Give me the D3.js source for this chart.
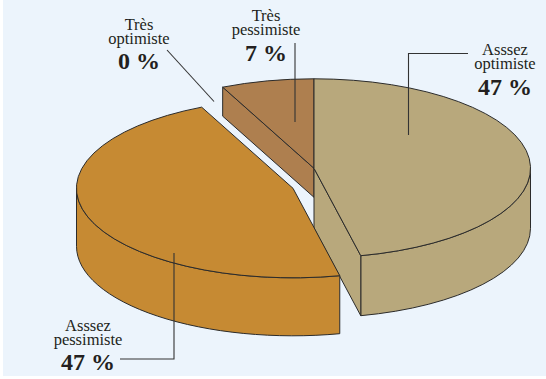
<!DOCTYPE html>
<html>
<head>
<meta charset="utf-8">
<script src="https://cdn.jsdelivr.net/npm/d3@7"></script>
<style>
  html, body { margin: 0; padding: 0; background: #ffffff; }
  svg { display: block; }
</style>
</head>
<body>
<svg id="chart" width="546" height="379"></svg>
<script>
  // ----- data -----
  const categories = ["Asssez optimiste", "Asssez pessimiste", "Très optimiste", "Très pessimiste"];
  const values = [47, 47, 0, 7];
  const valueLabels = ["47 %", "47 %", "0 %", "7 %"];

  // ----- look of each slice (same order as categories) -----
  const sliceFill = ["#b8a87c", "#c68a33", "#ae7f4f", "#ae7f4f"];
  const sliceShift = [[0, 0], [-21, 20], [0, 0], [0, 0]];   // exploded offset
  const sliceDepth = [60, 58, 29, 29];                       // side height

  // label anchor (baseline of first text line) and leader line points
  const labelPos = [
    { x: 505, y: 55,    leader: [[468, 53.5], [408.5, 53.5], [408.5, 135]] },
    { x: 88,  y: 330.5, leader: [[120, 359], [174, 359], [174, 253]] },
    { x: 139, y: 29.5,  leader: [[167, 50], [214, 101.5]] },
    { x: 266, y: 21,    leader: [[295, 43], [295, 122]] }
  ];

  const serif = "Liberation Serif";

  const svg = d3.select("#chart");
  const W = +svg.attr("width"), H = +svg.attr("height");

  svg.append("rect")
    .attr("x", 3).attr("y", 0)
    .attr("width", W - 3).attr("height", H - 3)
    .attr("fill", "#ecf4fc");

  // ellipse of the pie top
  const cx = 314, cy = 168.3, rx = 216.5, ry = 89.5;

  const pie = d3.pie().sort(null).value(d => d)
    .startAngle(0).endAngle(2 * Math.PI);
  const arcs = pie(values);

  // angle is clockwise from 12 o'clock (d3 convention), z goes down the side
  function pt(i, a, r, z) {
    const [dx, dy] = sliceShift[i];
    return [cx + dx + r * rx * Math.sin(a), cy + dy - r * ry * Math.cos(a) + z];
  }
  const f = p => p[0].toFixed(2) + "," + p[1].toFixed(2);

  const strokeCol = "#2b2b2b";
  const g = svg.append("g");

  // draw back to front
  const order = d3.range(values.length)
    .filter(i => values[i] > 0)
    .sort((a, b) => {
      const key = i => sliceShift[i][1] - ry * Math.cos((arcs[i].startAngle + arcs[i].endAngle) / 2);
      return key(a) - key(b);
    });

  order.forEach(i => {
    const a0 = arcs[i].startAngle, a1 = arcs[i].endAngle;
    const h = sliceDepth[i];
    const fill = sliceFill[i];
    const sg = g.append("g").attr("class", "slice");

    const face = d => sg.append("path")
      .attr("d", d)
      .attr("fill", fill)
      .attr("stroke", strokeCol)
      .attr("stroke-width", 1)
      .attr("stroke-linejoin", "round");

    // outer curved side (front half only)
    const s = Math.max(a0, Math.PI / 2), e = Math.min(a1, 3 * Math.PI / 2);
    if (s < e) {
      const large = (e - s) > Math.PI ? 1 : 0;
      face("M" + f(pt(i, s, 1, 0)) +
           " A" + rx + "," + ry + " 0 " + large + " 1 " + f(pt(i, e, 1, 0)) +
           " L" + f(pt(i, e, 1, h)) +
           " A" + rx + "," + ry + " 0 " + large + " 0 " + f(pt(i, s, 1, h)) + " Z");
    }

    // radial cut faces facing the viewer
    const cut = a => face("M" + f(pt(i, a, 0, 0)) + " L" + f(pt(i, a, 1, 0)) +
                          " L" + f(pt(i, a, 1, h)) + " L" + f(pt(i, a, 0, h)) + " Z");
    if (Math.sin(a0) < -1e-6) cut(a0);
    if (Math.sin(a1) > 1e-6) cut(a1);

    // top face
    const large = (a1 - a0) > Math.PI ? 1 : 0;
    face("M" + f(pt(i, a0, 0, 0)) + " L" + f(pt(i, a0, 1, 0)) +
         " A" + rx + "," + ry + " 0 " + large + " 1 " + f(pt(i, a1, 1, 0)) + " Z");
  });

  // leader lines
  const line = d3.line();
  labelPos.forEach(lp => {
    svg.append("path")
      .attr("d", line(lp.leader))
      .attr("fill", "none")
      .attr("stroke", "#333333")
      .attr("stroke-width", 1.1);
  });

  // labels: two name lines then the bold percentage
  categories.forEach((c, i) => {
    const lp = labelPos[i];
    c.split(" ").forEach((w, k) => {
      svg.append("text")
        .attr("x", lp.x)
        .attr("y", lp.y + k * 14)
        .attr("text-anchor", "middle")
        .attr("font-family", serif)
        .attr("font-size", 16.5)
        .attr("fill", "#231f20")
        .text(w);
    });
    svg.append("text")
      .attr("x", lp.x)
      .attr("y", lp.y + 14 + 25.5)
      .attr("text-anchor", "middle")
      .attr("font-family", serif)
      .attr("font-weight", "bold")
      .attr("font-size", 24)
      .attr("fill", "#231f20")
      .text(valueLabels[i]);
  });
</script>
</body>
</html>
